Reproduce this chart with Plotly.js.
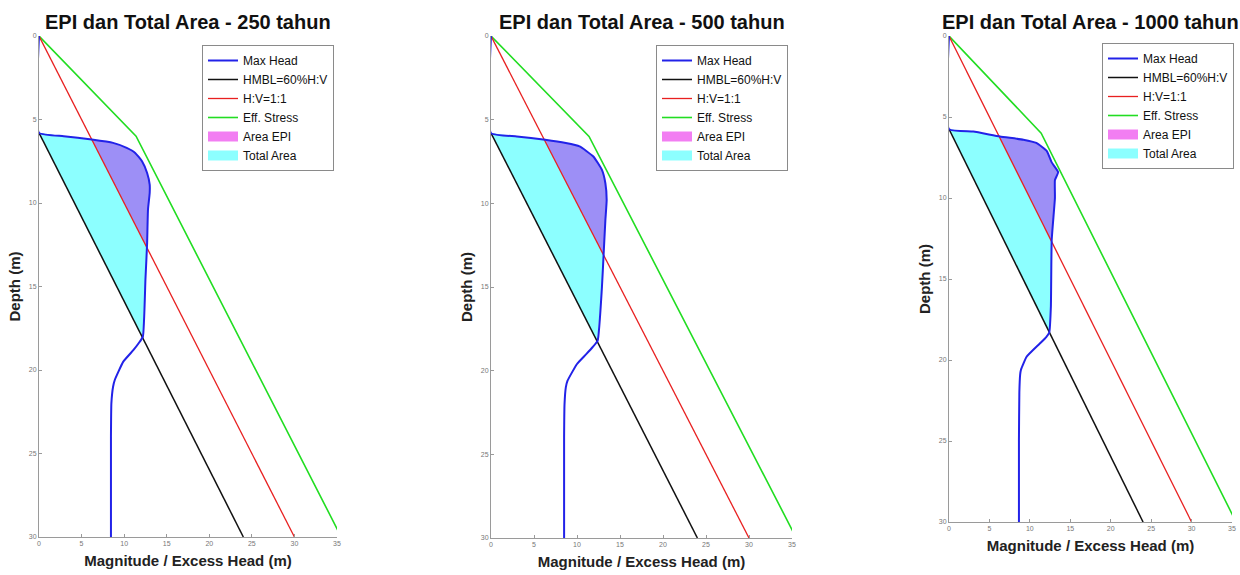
<!DOCTYPE html>
<html>
<head>
<meta charset="utf-8">
<script src="https://cdn.plot.ly/plotly-3.0.1.min.js"></script>
<style>
  html, body { margin: 0; padding: 0; background: #fff; }
  #chart { width: 1240px; height: 575px; }
</style>
</head>
<body>
<div id="chart"></div>
<script>
// Return periods shown, one panel each
const periods = ['250', '500', '1000'];

// Max excess head profiles (depth in m, head in m)
const head250Depth = [0, 5.8, 6.0, 6.2, 6.4, 6.7, 7.0, 7.5, 8.2, 8.9, 9.4, 10.4, 12.4, 14.6, 18.0, 18.4, 18.8, 19.5, 20.6, 21.0, 22.0, 24.0, 30.0];
const head250X     = [0, 0, 2.9, 6.2, 8.7, 10.3, 11.3, 12.1, 12.7, 13.0, 13.0, 12.8, 12.7, 12.5, 12.2, 11.7, 11.1, 9.9, 8.9, 8.7, 8.5, 8.45, 8.45];

const head500Depth = [0, 5.8, 6.0, 6.2, 6.4, 6.6, 7.2, 8.0, 8.8, 9.8, 11.0, 13.0, 15.0, 18.2, 18.6, 19.0, 19.6, 20.6, 21.0, 22.0, 24.0, 30.0];
const head500X     = [0, 0, 3.0, 6.3, 8.7, 10.3, 11.9, 12.9, 13.3, 13.45, 13.3, 13.1, 12.9, 12.4, 11.8, 11.1, 10.0, 8.9, 8.7, 8.55, 8.5, 8.5];

const head1000Depth = [0, 5.75, 5.9, 6.2, 6.4, 6.6, 7.1, 7.8, 8.4, 8.9, 10.0, 12.6, 16.7, 18.3, 18.6, 19.0, 19.8, 20.6, 20.9, 22.0, 25.0, 30.0];
const head1000X     = [0, 0, 3.0, 6.3, 9.2, 10.8, 12.1, 12.7, 13.5, 13.1, 13.1, 12.7, 12.6, 12.4, 12.0, 11.2, 9.6, 8.9, 8.8, 8.7, 8.65, 8.65];

// HMBL = 60% H:V lines
const hmbl250Depth = [5.8, 30];   const hmbl250X = [0, 24];
const hmbl500Depth = [5.8, 30];   const hmbl500X = [0, 24];
const hmbl1000Depth = [5.75, 30]; const hmbl1000X = [0, 24];

// H:V = 1:1 line
const hvDepth = [0, 30];
const hvX = [0, 30];

// Effective stress profile
const effDepth = [0, 5.5, 6.0, 30];
const effX = [0, 10.5, 11.4, 35.5];

// Axis ticks
const xTicks = [0, 5, 10, 15, 20, 25, 30, 35];
const yTicks = [0, 5, 10, 15, 20, 25, 30];

const panels = [
  { period: periods[0], hd: head250Depth, hx: head250X, bd: hmbl250Depth, bx: hmbl250X },
  { period: periods[1], hd: head500Depth, hx: head500X, bd: hmbl500Depth, bx: hmbl500X },
  { period: periods[2], hd: head1000Depth, hx: head1000X, bd: hmbl1000Depth, bx: hmbl1000X }
];

// Linear line x(depth) through two points; above its start it is out of reach
function lineFn(ds, xs) {
  const d0 = ds[0], d1 = ds[ds.length - 1], x0 = xs[0], x1 = xs[xs.length - 1];
  return d => (d < d0 - 1e-9 ? 1e6 : x0 + (d - d0) * (x1 - x0) / (d1 - d0));
}

// Polygon of the first stretch where the head curve lies to the right of a line
function regionRightOf(ds, xs, line) {
  const f = ds.map((d, i) => xs[i] - line(d));
  const pts = [];
  let started = false;
  for (let i = 0; i < ds.length; i++) {
    if (f[i] > 1e-9) {
      if (!started) {
        started = true;
        if (i > 0) {
          const t = f[i - 1] / (f[i - 1] - f[i]);
          pts.push([ds[i - 1] + t * (ds[i] - ds[i - 1]), xs[i - 1] + t * (xs[i] - xs[i - 1])]);
        }
      }
      pts.push([ds[i], xs[i]]);
    } else if (started) {
      const t = f[i - 1] / (f[i - 1] - f[i]);
      pts.push([ds[i - 1] + t * (ds[i] - ds[i - 1]), xs[i - 1] + t * (xs[i] - xs[i - 1])]);
      break;
    }
  }
  return { x: pts.map(p => p[1]), y: pts.map(p => p[0]) };
}

const W = 1240, H = 575;
// Plot boxes in pixels: [left, right, top, bottom]
const boxes = [
  [39, 337, 36, 537],
  [491, 792, 36, 538],
  [949, 1232, 36, 522]
];
const legendPos = [[202, 45], [656, 45], [1102, 43]];

const FONT = 'Liberation Sans, Arial, sans-serif';
const colors = {
  head: '#2222e8', hmbl: '#111111', hv: '#e82020', eff: '#22dd22',
  epi: '#9d8ff6', epiKey: '#f27ef2', total: '#8cffff'
};

const traces = [];
const layout = {
  width: W, height: H,
  margin: { l: 0, r: 0, t: 0, b: 0 },
  paper_bgcolor: '#fff', plot_bgcolor: '#fff',
  font: { family: FONT },
  showlegend: true,
  annotations: []
};

panels.forEach((p, k) => {
  const n = k === 0 ? '' : String(k + 1);
  const xa = 'x' + n, ya = 'y' + n;
  const lg = 'legend' + n;
  const [l, r, t, b] = boxes[k];

  const total = regionRightOf(p.hd, p.hx, lineFn(p.bd, p.bx));
  const epi = regionRightOf(p.hd, p.hx, lineFn(hvDepth, hvX));

  const common = { xaxis: xa, yaxis: ya, legend: lg, hoverinfo: 'skip' };

  traces.push(Object.assign({
    type: 'scatter', mode: 'lines', x: total.x, y: total.y, fill: 'toself',
    fillcolor: colors.total, line: { width: 0, color: colors.total },
    name: 'Total Area', showlegend: false
  }, common));
  traces.push(Object.assign({
    type: 'scatter', mode: 'lines', x: epi.x, y: epi.y, fill: 'toself',
    fillcolor: colors.epi, line: { width: 0, color: colors.epi },
    name: 'Area EPI', showlegend: false
  }, common));
  // legend keys for the two areas
  traces.push(Object.assign({
    type: 'scatter', mode: 'lines', x: [null], y: [null],
    line: { width: 12, color: colors.epiKey }, name: 'Area EPI', legendrank: 5
  }, common));
  traces.push(Object.assign({
    type: 'scatter', mode: 'lines', x: [null], y: [null],
    line: { width: 12, color: colors.total }, name: 'Total Area', legendrank: 6
  }, common));
  traces.push(Object.assign({
    type: 'scatter', mode: 'lines', x: effX, y: effDepth,
    line: { color: colors.eff, width: 1.6 }, name: 'Eff. Stress', legendrank: 4
  }, common));
  traces.push(Object.assign({
    type: 'scatter', mode: 'lines', x: hvX, y: hvDepth,
    line: { color: colors.hv, width: 1.3 }, name: 'H:V=1:1', legendrank: 3
  }, common));
  traces.push(Object.assign({
    type: 'scatter', mode: 'lines', x: p.bx, y: p.bd,
    line: { color: colors.hmbl, width: 1.5 }, name: 'HMBL=60%H:V', legendrank: 2
  }, common));
  traces.push(Object.assign({
    type: 'scatter', mode: 'lines', x: p.hx, y: p.hd,
    line: { color: colors.head, width: 2, shape: 'spline', smoothing: 0.4 },
    name: 'Max Head', legendrank: 1
  }, common));

  const axisBase = {
    showgrid: false, zeroline: false, showline: true, linecolor: '#9a9a9a', linewidth: 1,
    ticks: 'inside', ticklen: 3, tickcolor: '#9a9a9a', tickwidth: 1,
    tickfont: { family: FONT, size: 7, color: '#777' }, fixedrange: true
  };
  layout['xaxis' + n] = Object.assign({}, axisBase, {
    domain: [l / W, r / W], anchor: ya, range: [0, 35], tickvals: xTicks,
    title: { text: 'Magnitude / Excess Head (m)', standoff: 9,
             font: { family: FONT, size: 15, weight: 'bold', color: '#222' } }
  });
  layout['yaxis' + n] = Object.assign({}, axisBase, {
    domain: [1 - b / H, 1 - t / H], anchor: xa, range: [30, 0], tickvals: yTicks,
    title: { text: 'Depth (m)', standoff: 4,
             font: { family: FONT, size: 15, weight: 'bold', color: '#222' } }
  });
  layout[lg] = {
    x: legendPos[k][0] / W, xanchor: 'left', y: 1 - legendPos[k][1] / H, yanchor: 'top',
    bgcolor: '#fff', bordercolor: '#8a8a8a', borderwidth: 1,
    font: { family: FONT, size: 12, color: '#111' }, itemwidth: 30,
    tracegroupgap: 0, traceorder: 'normal'
  };
  layout.annotations.push({
    xref: 'paper', yref: 'paper', x: (l + r) / 2 / W, y: 1 - 35 / H,
    xanchor: 'center', yanchor: 'bottom', showarrow: false,
    text: 'EPI dan Total Area - ' + p.period + ' tahun',
    font: { family: FONT, size: 20, weight: 'bold', color: '#111' }
  });
});

Plotly.newPlot('chart', traces, layout, { staticPlot: true, displayModeBar: false });
</script>
</body>
</html>
